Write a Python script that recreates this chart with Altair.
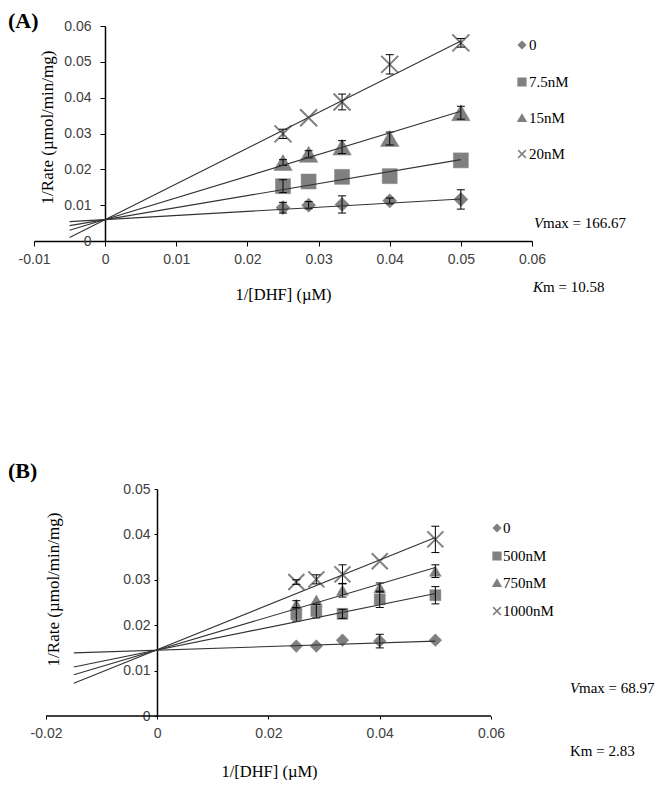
import altair as alt
import pandas as pd

# ---------------- data ----------------
x_inv_dhf = [0.025, 0.0286, 0.0333, 0.04, 0.05]

# Panel A
a_series = ["0", "7.5nM", "15nM", "20nM"]
a_rate = {
    "0":     [0.0093, 0.0100, 0.0102, 0.0112, 0.0116],
    "7.5nM": [0.0153, 0.0166, 0.0179, 0.0181, 0.0225],
    "15nM":  [0.0219, 0.0242, 0.0262, 0.0286, 0.0358],
    "20nM":  [0.0299, 0.0344, 0.0388, 0.0493, 0.0553],
}
a_err = {
    "0":     [0.0015, 0.0010, 0.0024, 0.0008, 0.0027],
    "7.5nM": [0.0018, 0.0000, 0.0000, 0.0000, 0.0000],
    "15nM":  [0.0008, 0.0010, 0.0018, 0.0018, 0.0018],
    "20nM":  [0.0013, 0.0000, 0.0022, 0.0027, 0.0012],
}
a_fit_x = [-0.005, 0.05]
a_fit_y = {
    "0":     [0.0054, 0.0117],
    "7.5nM": [0.0043, 0.0227],
    "15nM":  [0.0030, 0.0362],
    "20nM":  [0.0010, 0.0558],
}
a_x_ticks = [-0.01, 0, 0.01, 0.02, 0.03, 0.04, 0.05, 0.06]
a_y_ticks = [0, 0.01, 0.02, 0.03, 0.04, 0.05, 0.06]

# Panel B
b_series = ["0", "500nM", "750nM", "1000nM"]
b_rate = {
    "0":      [0.0154, 0.0154, 0.0167, 0.0165, 0.0167],
    "500nM":  [0.0224, 0.0231, 0.0225, 0.0257, 0.0266],
    "750nM":  [0.0246, 0.0255, 0.0277, 0.0283, 0.0319],
    "1000nM": [0.0295, 0.0301, 0.0312, 0.0341, 0.0389],
}
b_err = {
    "0":      [0.0000, 0.0000, 0.0000, 0.0015, 0.0000],
    "500nM":  [0.0015, 0.0015, 0.0010, 0.0018, 0.0019],
    "750nM":  [0.0008, 0.0000, 0.0015, 0.0010, 0.0014],
    "1000nM": [0.0005, 0.0010, 0.0021, 0.0000, 0.0029],
}
b_fit_x = [-0.015, 0.05]
b_fit_y = {
    "0":      [0.0139, 0.0165],
    "500nM":  [0.0108, 0.0270],
    "750nM":  [0.0091, 0.0327],
    "1000nM": [0.0072, 0.0393],
}
b_x_ticks = [-0.02, 0, 0.02, 0.04, 0.06]
b_y_ticks = [0, 0.01, 0.02, 0.03, 0.04, 0.05]

shapes = ["diamond", "square", "triangle-up", "M-1,-1L1,1M-1,1L1,-1"]
shape_stroke = [0.5, 0.5, 0.5, 2]
a_sizes = [200, 225, 340, 289]
b_sizes = [160, 121, 140, 256]
legend_symbol_sizes = [50, 60, 60, 60]

a_labels = {"panel": "(A)", "vmax": ("V", "max = 166.67"), "km": ("K", "m = 10.58")}
b_labels = {"panel": "(B)", "vmax": ("V", "max = 68.97"), "km": "Km = 2.83"}

GRAY = "#808080"
SERIF = "Liberation Serif"
SANS = "Liberation Sans"


def tables(series, rate, err, fit_x, fit_y):
    pts, errs, caps, fits = [], [], [], []
    for s in series:
        for x, y, e in zip(x_inv_dhf, rate[s], err[s]):
            pts.append({"series": s, "x": x, "y": y})
            if e > 0:
                errs.append({"series": s, "x": x, "lo": y - e, "hi": y + e})
                caps.append({"series": s, "x": x, "cap": y - e})
                caps.append({"series": s, "x": x, "cap": y + e})
        for x, y in zip(fit_x, fit_y[s]):
            fits.append({"series": s, "x": x, "y": y})
    return (pd.DataFrame(pts), pd.DataFrame(errs), pd.DataFrame(caps),
            pd.DataFrame(fits))


def text_layer(txt, x, y, size=15, italic=False, bold=False, align="left",
               baseline="middle"):
    kw = dict(font=SERIF, fontSize=size, align=align, baseline=baseline,
              color="black")
    if italic:
        kw["fontStyle"] = "italic"
    if bold:
        kw["fontWeight"] = "bold"
    return alt.Chart(pd.DataFrame({"t": [txt]})).mark_text(**kw).encode(
        text="t:N", x=alt.value(x), y=alt.value(y))


def legend_layers(series, sym_x, text_x, row_y):
    out = []
    for i, s in enumerate(series):
        out.append(alt.Chart(pd.DataFrame({"series": [s]})).mark_point(
            filled=True, opacity=1, fill=GRAY, stroke=GRAY, strokeWidth=1.5,
            size=legend_symbol_sizes[i], shape=shapes[i]).encode(
            x=alt.value(sym_x), y=alt.value(row_y[i])))
        out.append(alt.Chart(pd.DataFrame({"series": [s]})).mark_text(
            font=SERIF, fontSize=15, align="left", baseline="middle",
            color="black").encode(text="series:N", x=alt.value(text_x),
                                  y=alt.value(row_y[i])))
    return out


def panel(series, rate, err, fit_x, fit_y, sizes, x_dom, y_dom, x_ticks,
          y_ticks, width, height, y_offset, tick_size, x_lab_pad, y_lab_pad,
          x_title_xy, y_title_xy, texts, draw_x_domain_rule):
    pts, errs, caps, fits = tables(series, rate, err, fit_x, fit_y)

    xs = alt.Scale(domain=x_dom, nice=False, zero=False)
    ys = alt.Scale(domain=y_dom, nice=False, zero=False)
    x_axis = alt.Axis(
        values=x_ticks, labelExpr="'' + datum.value", grid=False,
        domain=not draw_x_domain_rule, domainColor="black", domainWidth=1.5,
        tickColor="black", tickSize=tick_size, labelPadding=x_lab_pad,
        labelFont=SANS, labelFontSize=14, labelColor="#404040",
        labelFlush=False, labelOverlap=False,
        title="1/[DHF] (µM)", titleFont=SERIF, titleFontSize=16.5,
        titleFontWeight="normal", titleColor="black",
        titleX=x_title_xy[0], titleY=x_title_xy[1], titleBaseline="middle",
        titleAlign="center")
    y_axis = alt.Axis(
        values=y_ticks, labelExpr="'' + datum.value", grid=False,
        offset=y_offset, domainColor="black", domainWidth=1.5,
        tickColor="black", tickSize=tick_size, labelPadding=y_lab_pad,
        labelFont=SANS, labelFontSize=14, labelColor="#404040",
        labelOverlap=False,
        title="1/Rate (µmol/min/mg)", titleFont=SERIF, titleFontSize=17,
        titleFontWeight="normal", titleColor="black",
        titleX=y_title_xy[0], titleY=y_title_xy[1], titleBaseline="middle",
        titleAlign="center", titleAngle=270)
    X = alt.X("x:Q", scale=xs, axis=x_axis)
    Y = alt.Y("y:Q", scale=ys, axis=y_axis)
    shape_enc = alt.Shape("series:N", sort=series,
                          scale=alt.Scale(domain=series, range=shapes),
                          legend=None)

    layers = []
    if draw_x_domain_rule:
        axis_df = pd.DataFrame({"x0": [x_ticks[0]], "x1": [x_ticks[-1]],
                                "y0": [y_ticks[0]]})
        layers.append(alt.Chart(axis_df).mark_rule(
            color="black", strokeWidth=1.5).encode(
            x=alt.X("x0:Q", scale=xs, axis=x_axis), x2="x1:Q",
            y=alt.Y("y0:Q", scale=ys, axis=y_axis)))

    for i, s in enumerate(series):
        layers.append(alt.Chart(pts[pts["series"] == s]).mark_point(
            filled=True, opacity=1, fill=GRAY, stroke=GRAY,
            size=sizes[i], strokeWidth=shape_stroke[i]).encode(
            x=X, y=Y, shape=shape_enc))

    layers.append(alt.Chart(errs).mark_rule(color="black", strokeWidth=1)
                  .encode(x=X, y=alt.Y("lo:Q", scale=ys, axis=y_axis),
                          y2="hi:Q"))
    layers.append(alt.Chart(caps).mark_tick(
        color="black", orient="horizontal", size=8, thickness=1, opacity=1)
        .encode(x=X, y=alt.Y("cap:Q", scale=ys, axis=y_axis)))
    layers.append(alt.Chart(fits).mark_line(color="#333333", strokeWidth=1.1)
                  .encode(x=X, y=Y, detail="series:N"))
    layers.extend(texts)
    return alt.layer(*layers).properties(width=width, height=height)


texts_a = [
    text_layer(a_labels["panel"], -26, -15, size=22, bold=True,
               baseline="top"),
    text_layer(a_labels["vmax"][0], 500, 197, italic=True),
    text_layer(a_labels["vmax"][1], 509, 197),
    text_layer(a_labels["km"][0], 499, 261, italic=True),
    text_layer(a_labels["km"][1], 509, 261),
] + legend_layers(a_series, 488, 495, [19, 56, 92, 128])

texts_b = [
    text_layer(b_labels["panel"], -26, -28, size=22, bold=True,
               baseline="top"),
    text_layer(b_labels["vmax"][0], 536, 199, italic=True),
    text_layer(b_labels["vmax"][1], 545, 199),
    text_layer(b_labels["km"], 536, 262),
] + legend_layers(b_series, 463, 469, [39, 67, 94, 122])

chart_a = panel(a_series, a_rate, a_err, a_fit_x, a_fit_y, a_sizes,
                [-0.01, 0.06], [0, 0.06], a_x_ticks, a_y_ticks,
                498, 215, -71, 5, 6, 9, (249, 53), (-58, 101),
                texts_a, False)

chart_b = panel(b_series, b_rate, b_err, b_fit_x, b_fit_y, b_sizes,
                [-0.022157, 0.06], [0, 0.05], b_x_ticks, b_y_ticks,
                457, 227, -123, 3, 7, 4, (235, 55), (-104, 100),
                texts_b, True)

chart = alt.vconcat(chart_a, chart_b, spacing=248, bounds="flush").resolve_scale(
    x="independent", y="independent", shape="independent").properties(
    padding={"left": 0, "top": 2, "right": 0, "bottom": 0},
    background="white").configure_view(stroke=None)

chart.save("out.html", embed_options={"renderer": "svg", "actions": False})
